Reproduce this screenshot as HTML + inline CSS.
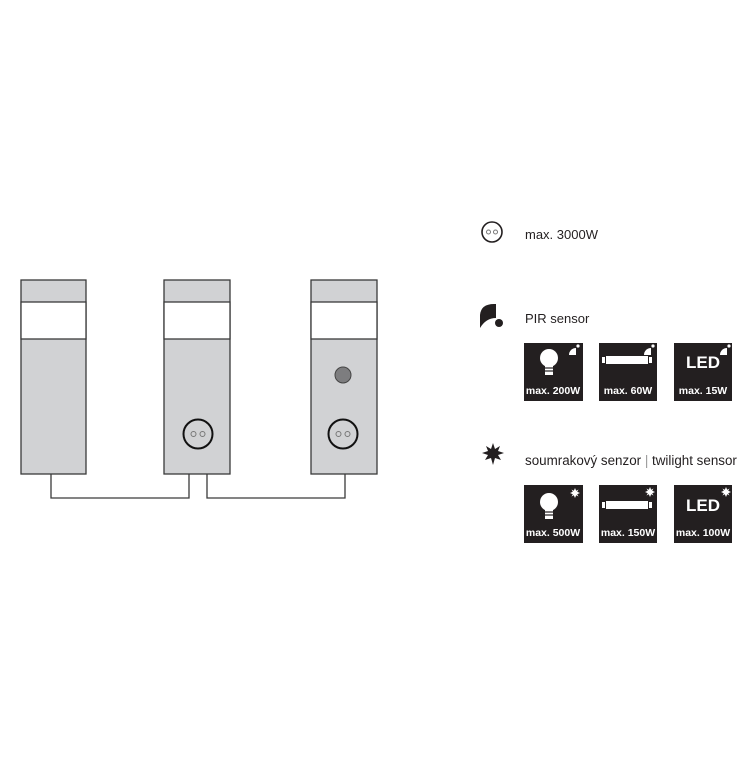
<!DOCTYPE html>
<html><head><meta charset="utf-8"><style>
body{margin:0;background:#fff;width:756px;height:756px;overflow:hidden;font-family:"Liberation Sans",sans-serif}
</style></head><body>
<svg width="756" height="756" xmlns="http://www.w3.org/2000/svg">
<defs>
<g id="bulb"><circle cx="0" cy="0" r="9" fill="#fff"/><rect x="-4" y="7" width="8" height="10" fill="#fff"/><line x1="-4" y1="10" x2="4" y2="10" stroke="#231f20" stroke-width="1.2"/><line x1="-4" y1="13" x2="4" y2="13" stroke="#231f20" stroke-width="1.2"/></g>
<g id="tube"><rect x="-21" y="-4" width="42" height="8" fill="#fff"/><rect x="-25" y="-3" width="3" height="6" fill="#fff"/><rect x="22" y="-3" width="3" height="6" fill="#fff"/></g>
<g id="pir"><path d="M0 0 L0 -7 A7 7 0 0 0 -7 0 Z" fill="#fff"/><circle cx="2" cy="-9" r="1.6" fill="#fff"/></g>
<g id="sun"><polygon points="0,-5 1.2,-2.2 3.5,-3.5 2.2,-1.2 5,0 2.2,1.2 3.5,3.5 1.2,2.2 0,5 -1.2,2.2 -3.5,3.5 -2.2,1.2 -5,0 -2.2,-1.2 -3.5,-3.5 -1.2,-2.2" fill="#fff"/></g>
</defs>
<g stroke="#3a3a3a" stroke-width="1.3" fill="#d1d2d4">
<rect x="21" y="280" width="65" height="194"/><rect x="21" y="302" width="65" height="37" fill="#fff"/>
<rect x="164" y="280" width="66" height="194"/><rect x="164" y="302" width="66" height="37" fill="#fff"/>
<rect x="311" y="280" width="66" height="194"/><rect x="311" y="302" width="66" height="37" fill="#fff"/>
</g>
<polyline points="51,474 51,498 189,498 189,474" fill="none" stroke="#3a3a3a" stroke-width="1.3"/>
<polyline points="207,474 207,498 345,498 345,474" fill="none" stroke="#3a3a3a" stroke-width="1.3"/>
<g fill="none">
<circle cx="198" cy="434" r="14.5" stroke="#111" stroke-width="2"/>
<circle cx="193.5" cy="434" r="2.5" stroke="#777"/><circle cx="202.5" cy="434" r="2.5" stroke="#777"/>
<circle cx="343" cy="434" r="14.5" stroke="#111" stroke-width="2"/>
<circle cx="338.5" cy="434" r="2.5" stroke="#777"/><circle cx="347.5" cy="434" r="2.5" stroke="#777"/>
</g>
<circle cx="343" cy="375" r="8" fill="#7d7d7f" stroke="#444" stroke-width="1"/>
<circle cx="492" cy="232" r="10" fill="none" stroke="#231f20" stroke-width="1.6"/>
<circle cx="488.5" cy="232" r="2" fill="none" stroke="#777"/><circle cx="495.5" cy="232" r="2" fill="none" stroke="#777"/>
<text x="525" y="239" font-size="13" fill="#231f20">max. 3000W</text>
<path d="M480 328 L480 315 Q481 304 494 304 L496 304 L496 318 Q486 318 480 328Z" fill="#231f20"/>
<circle cx="499" cy="323" r="4" fill="#231f20"/>
<text x="525" y="323" font-size="13" fill="#231f20">PIR sensor</text>
<polygon points="493,443 495,449 500,446 498,451 504,453 498,455 501,460 495,458 493,465 491,458 485,460 488,455 482,453 488,451 486,446 491,449" fill="#231f20"/>
<text x="525" y="465" font-size="13.4" fill="#231f20">soumrakový senzor <tspan fill="#999">|</tspan> twilight sensor</text>
<g font-weight="bold" fill="#fff" font-size="10.5" text-anchor="middle">
<rect x="524" y="343" width="59" height="58" fill="#231f20"/><use href="#bulb" x="549" y="358"/><use href="#pir" x="576" y="355"/><text x="553" y="394">max. 200W</text>
<rect x="599" y="343" width="58" height="58" fill="#231f20"/><use href="#tube" x="627" y="360"/><use href="#pir" x="651" y="355"/><text x="628" y="394">max. 60W</text>
<rect x="674" y="343" width="58" height="58" fill="#231f20"/><text x="703" y="368" font-size="17">LED</text><use href="#pir" x="727" y="355"/><text x="703" y="394">max. 15W</text>
<rect x="524" y="485" width="59" height="58" fill="#231f20"/><use href="#bulb" x="549" y="502"/><use href="#sun" x="575" y="493"/><text x="553" y="536">max. 500W</text>
<rect x="599" y="485" width="58" height="58" fill="#231f20"/><use href="#tube" x="627" y="505"/><use href="#sun" x="650" y="492"/><text x="628" y="536">max. 150W</text>
<rect x="674" y="485" width="58" height="58" fill="#231f20"/><text x="703" y="511" font-size="17">LED</text><use href="#sun" x="726" y="492"/><text x="703" y="536">max. 100W</text>
</g>
</svg>
</body></html>
